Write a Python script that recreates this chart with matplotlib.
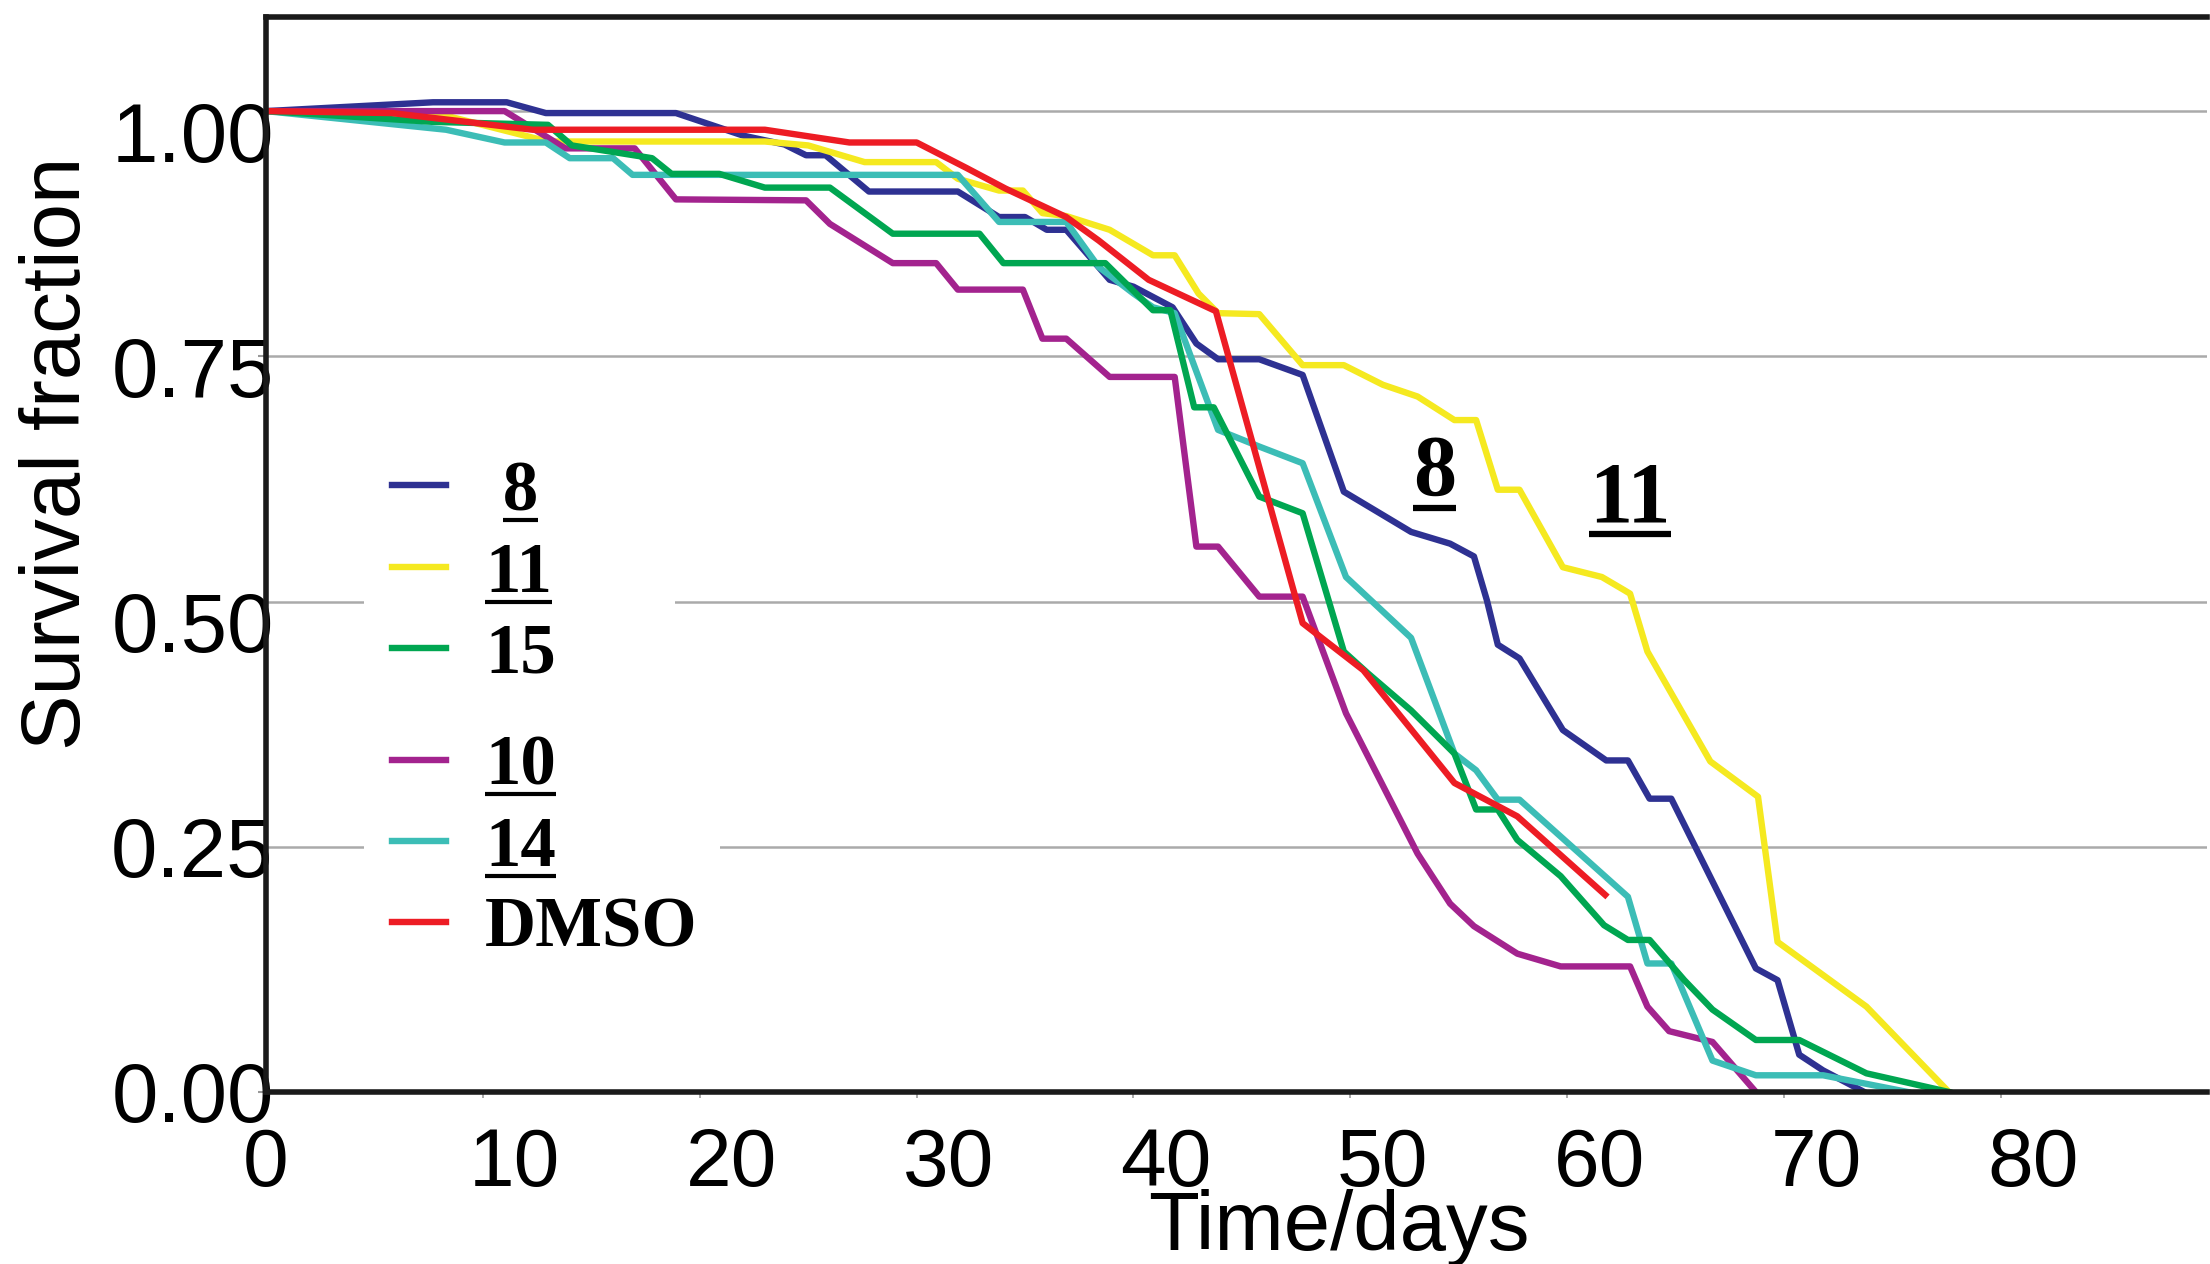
import matplotlib
matplotlib.use("Agg")
import matplotlib.pyplot as plt
from matplotlib.lines import Line2D
from matplotlib.transforms import ScaledTranslation, IdentityTransform
from matplotlib.font_manager import FontProperties
from matplotlib.legend_handler import HandlerLine2D

# survival curves
days_8 = [0, 7.7, 11.1, 12.9, 18.9, 22, 23.9, 24.9, 25.8, 27.8, 31.9, 33.8, 35, 36, 36.9, 38.9, 40,
          41.8, 42.9, 43.9, 45.8, 47.8, 49.7, 52.8, 54.6, 55.7, 56.3, 56.8, 57.8, 59.8, 61.8, 62.8,
          63.8, 64.8, 68.7, 69.7, 70.7, 71.8, 73.7]
surv_8 = [1.0, 1.009, 1.009, 0.998, 0.998, 0.975, 0.966, 0.955, 0.955, 0.918, 0.918, 0.892, 0.892,
          0.879, 0.879, 0.828, 0.821, 0.800, 0.763, 0.747, 0.747, 0.731, 0.612, 0.571, 0.559, 0.546,
          0.501, 0.456, 0.442, 0.369, 0.338, 0.338, 0.299, 0.299, 0.126, 0.114, 0.038, 0.022, 0.0]

days_11 = [0, 8, 13, 23, 25, 27.6, 30.9, 31.9, 33.8, 34.9, 35.8, 36.9, 38.9, 40.9, 41.9, 43, 43.9,
           45.8, 47.8, 49.7, 51.5, 53.1, 54.8, 55.8, 56.8, 57.8, 59.8, 61.6, 62.6, 62.9, 63.7, 66.6,
           68.8, 69.7, 73.8, 77.6]
surv_11 = [1.0, 0.997, 0.969, 0.969, 0.965, 0.948, 0.948, 0.931, 0.919, 0.919, 0.896, 0.893, 0.879,
           0.853, 0.853, 0.814, 0.794, 0.793, 0.741, 0.741, 0.721, 0.709, 0.685, 0.685, 0.614, 0.614,
           0.535, 0.525, 0.512, 0.508, 0.449, 0.337, 0.301, 0.153, 0.087, 0.0]

days_15 = [0, 7.7, 13, 14.1, 17.8, 18.7, 20.9, 23, 26, 28.9, 32.9, 34, 38.7, 40.9, 41.7, 42.8, 43.7,
           45.8, 47.8, 49.7, 50.8, 52.8, 54.8, 55.8, 56.8, 57.7, 59.7, 61.7, 62.8, 63.8, 65.4, 66.7,
           68.7, 70.7, 73.8, 77.6]
surv_15 = [1.0, 0.989, 0.986, 0.965, 0.952, 0.936, 0.936, 0.922, 0.922, 0.875, 0.875, 0.845, 0.845,
           0.797, 0.797, 0.698, 0.698, 0.607, 0.590, 0.449, 0.427, 0.389, 0.345, 0.288, 0.288, 0.257,
           0.220, 0.170, 0.155, 0.155, 0.114, 0.084, 0.053, 0.053, 0.019, 0.0]

days_10 = [0, 8, 11, 13.8, 17, 18.9, 24.9, 26, 28.9, 30.9, 31.9, 34.9, 35.8, 36.9, 38.9, 41.9, 42.9,
           43.9, 45.8, 47.8, 49.8, 53.1, 54.6, 55.7, 57.7, 59.7, 62.9, 63.7, 64.7, 66.7, 68.7]
surv_10 = [1.0, 1.0, 1.0, 0.962, 0.962, 0.910, 0.909, 0.885, 0.845, 0.845, 0.818, 0.818, 0.768,
           0.768, 0.729, 0.729, 0.556, 0.556, 0.505, 0.505, 0.386, 0.243, 0.192, 0.169, 0.141, 0.128,
           0.128, 0.087, 0.062, 0.051, 0.0]

days_14 = [0, 8.3, 11, 12.9, 14, 16, 16.9, 31.9, 33.8, 36.9, 38.4, 40, 40.9, 41.9, 43.9, 45.8, 47.8,
           49.8, 52.8, 54.8, 55.8, 56.8, 57.8, 62.8, 63.7, 64.8, 66.7, 68.7, 71.8, 75.7]
surv_14 = [1.0, 0.981, 0.968, 0.968, 0.952, 0.952, 0.935, 0.935, 0.887, 0.887, 0.841, 0.814, 0.800,
           0.794, 0.675, 0.658, 0.641, 0.525, 0.463, 0.345, 0.328, 0.298, 0.298, 0.199, 0.131, 0.131,
           0.032, 0.017, 0.017, 0.0]

days_dmso = [0, 5.8, 12.3, 23, 26.9, 30, 32.3, 34.1, 36.9, 38.4, 40.7, 43.8, 47.8, 50.6, 54.8, 57.7,
             61.75]
surv_dmso = [1.0, 0.998, 0.981, 0.981, 0.968, 0.968, 0.942, 0.921, 0.892, 0.868, 0.828, 0.796, 0.478,
             0.430, 0.315, 0.281, 0.201]

x_ticks = [0, 10, 20, 30, 40, 50, 60, 70, 80]
y_ticks = [0.0, 0.25, 0.5, 0.75, 1.0]
y_labels = ["0.00", "0.25", "0.50", "0.75", "1.00"]
y_label_drop = [0, 0, 20, 10, 20]   # px, the retyped labels sit a bit low in the original

blue, yellow, green = "#2e3192", "#f5e920", "#00a651"
magenta, cyan, red = "#a3238e", "#3cbdb6", "#ed1c24"

sans = "Liberation Sans"
serif = "Liberation Serif"

fig = plt.figure(figsize=(22.1, 12.64), dpi=100)
ax = fig.add_axes([0.1204, 0.1361, 0.8782, 0.8505])

lw = 4.6
l8, = ax.plot(days_8, surv_8, color=blue, lw=lw)
l11, = ax.plot(days_11, surv_11, color=yellow, lw=lw)
l10, = ax.plot(days_10, surv_10, color=magenta, lw=lw)
l14, = ax.plot(days_14, surv_14, color=cyan, lw=lw)
l15, = ax.plot(days_15, surv_15, color=green, lw=lw)
ldm, = ax.plot(days_dmso, surv_dmso, color=red, lw=lw)

ax.set_xlim(0, 89.5)
ax.set_ylim(0, 1.096)
ax.set_xticks(x_ticks)
ax.set_xticklabels([str(t) for t in x_ticks], fontsize=59, family=sans)
ax.set_yticks(y_ticks)
ax.set_yticklabels(y_labels, fontsize=60, family=sans)
ax.yaxis.grid(True, color="#aaaaaa", lw=1.8)
ax.set_axisbelow(True)

ax.tick_params(axis="x", length=4, width=1.2, color="#999999", pad=21)
ax.tick_params(axis="y", length=6, width=1.5, color="#999999", pad=-11.5)

for side in ["left", "top", "bottom"]:
    ax.spines[side].set_linewidth(4)
    ax.spines[side].set_color("#1a1a1a")
ax.spines["right"].set_visible(False)

# tick labels are slightly shifted from their ticks in the original
for i, lab in enumerate(ax.get_xticklabels()):
    if i > 0:
        lab.set_transform(lab.get_transform() + ScaledTranslation(0.32, 0, fig.dpi_scale_trans))
for lab, dy in zip(ax.get_yticklabels(), y_label_drop):
    lab.set_transform(lab.get_transform() + ScaledTranslation(0, -dy / 100, fig.dpi_scale_trans))

ax.set_xlabel("Time/days", fontsize=60, family=sans)
ax.xaxis.set_label_coords(0.553, -0.090)
ax.set_ylabel("Survival fraction", fontsize=60, family=sans, va="center")
ax.yaxis.set_label_coords(-0.107, 0.594)

leg_font = FontProperties(family=serif, weight="bold", size=51)
leg_kw = dict(loc="upper left", mode="expand", borderaxespad=0, prop=leg_font,
              handlelength=0.76, handletextpad=0.55, labelspacing=0.23, borderpad=0.4,
              frameon=True, fancybox=False, edgecolor="none", facecolor="white", framealpha=1,
              handler_map={Line2D: HandlerLine2D(ypad=0.2)})
leg1 = ax.legend([l8, l11, l15], [" 8", "11", "15"], bbox_to_anchor=(0.0505, 0.614, 0.160, 0),
                 **leg_kw)
ax.add_artist(leg1)
leg2 = ax.legend([l10, l14, ldm], ["10", "14", "DMSO"],
                 bbox_to_anchor=(0.0505, 0.359, 0.1835, 0), **leg_kw)

t8 = ax.text(53.9, 0.609, "8", ha="center", va="baseline", fontsize=62, family=serif,
             weight="bold")
t11 = ax.text(62.9, 0.582, "11", ha="center", va="baseline", fontsize=62, family=serif,
              weight="bold")

fig.canvas.draw()


def underline(txt, gap, width, part=None):
    bb = txt.get_window_extent()
    x0, x1 = bb.x0, bb.x1
    if part is not None:
        tmp = fig.text(0, 0, part, fontproperties=txt.get_fontproperties())
        x0 = x1 - tmp.get_window_extent().width
        tmp.remove()
    y = bb.y0 + gap
    fig.add_artist(Line2D([x0, x1], [y, y], transform=IdentityTransform(),
                          color="black", lw=width, solid_capstyle="butt"))


texts1 = leg1.get_texts()
texts2 = leg2.get_texts()
underline(texts1[0], 5, 3, part="8")
for t in [texts1[1], texts2[0], texts2[1]]:
    underline(t, 5, 3)
underline(t8, 6, 4.5)
underline(t11, 6, 4.5)

fig.savefig("out.png", dpi=100)
